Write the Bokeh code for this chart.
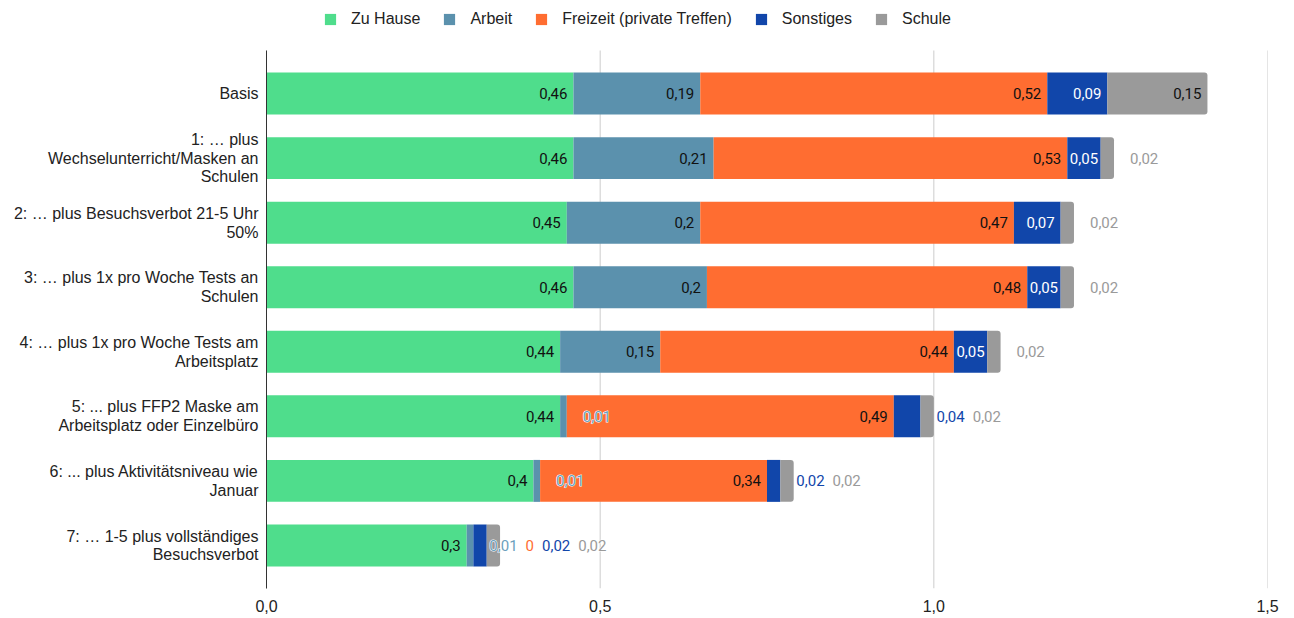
from bokeh.plotting import figure
from bokeh.models import (ColumnDataSource, Range1d, FixedTicker, Legend, LegendItem,
                          LabelSet, CustomJSTickFormatter)
from bokeh.core.properties import value
from bokeh.embed import file_html
from bokeh.resources import INLINE

categories = [
    "Basis",
    "1: … plus\nWechselunterricht/Masken an\nSchulen",
    "2: … plus Besuchsverbot 21-5 Uhr\n50%",
    "3: … plus 1x pro Woche Tests an\nSchulen",
    "4: … plus 1x pro Woche Tests am\nArbeitsplatz",
    "5: ... plus FFP2 Maske am\nArbeitsplatz oder Einzelbüro",
    "6: ... plus Aktivitätsniveau wie\nJanuar",
    "7: … 1-5 plus vollständiges\nBesuchsverbot",
]
series_names = ["Zu Hause", "Arbeit", "Freizeit (private Treffen)", "Sonstiges", "Schule"]
zu_hause = [0.46, 0.46, 0.45, 0.46, 0.44, 0.44, 0.40, 0.30]
arbeit = [0.19, 0.21, 0.20, 0.20, 0.15, 0.01, 0.01, 0.01]
freizeit = [0.52, 0.53, 0.47, 0.48, 0.44, 0.49, 0.34, 0.00]
sonstiges = [0.09, 0.05, 0.07, 0.05, 0.05, 0.04, 0.02, 0.02]
schule = [0.15, 0.02, 0.02, 0.02, 0.02, 0.02, 0.02, 0.02]
x_ticks = [0.0, 0.5, 1.0, 1.5]

colors = ["#4fdd8c", "#5b91ad", "#ff6d31", "#1146aa", "#9a9a9a"]
outside_text_colors = ["#4fdd8c", "#6b9fbd", "#ff6d31", "#1146aa", "#9a9a9a"]
inside_text_colors = ["#111111", "#111111", "#111111", "#ffffff", "#111111"]
series = [zu_hause, arbeit, freizeit, sonstiges, schule]

# layout (pixels)
FRAME_W = 1001
PLOT_H = 538          # height of the bar area
LEGEND_H = 50         # space above the bar area for the legend
X_MAX = 1.5
PPU = FRAME_W / X_MAX
LABEL_FONT = "Roboto"
LABEL_SIZE = 15

n = len(categories)
ys = list(range(n))
y_lo, y_hi = -0.667, n - 1 + 0.667
row_px = PLOT_H / (y_hi - y_lo)
y_top = y_lo - LEGEND_H / row_px

p = figure(frame_width=FRAME_W, frame_height=PLOT_H + LEGEND_H,
           min_border_left=266, min_border_right=19, min_border_top=0, min_border_bottom=26,
           x_range=Range1d(0, X_MAX), y_range=Range1d(y_hi, y_top),
           output_backend="svg", toolbar_location=None, tools="")
p.outline_line_color = None
p.background_fill_color = "white"

# vertical grid lines (bar area only)
p.segment(x0=x_ticks, x1=x_ticks, y0=[y_lo] * len(x_ticks), y1=[y_hi] * len(x_ticks),
          line_color="#cccccc", line_width=1)

# stacked bars
lefts = [0.0] * n
renderers = []
for k, vals in enumerate(series):
    rights = [l + v for l, v in zip(lefts, vals)]
    src = ColumnDataSource(dict(y=ys, left=lefts, right=rights))
    kw = {}
    if k == len(series) - 1:
        kw["border_radius"] = (0, 3, 3, 0)
    r = p.hbar(y="y", left="left", right="right", height=0.65, source=src,
               fill_color=colors[k], line_color=None, **kw)
    renderers.append(r)
    lefts = rights

# data labels
def fmt(v):
    return f"{v:g}".replace(".", ",")

def text_w(s):
    w = 0.0
    for ch in s:
        w += 0.1966 * LABEL_SIZE if ch == "," else 0.5615 * LABEL_SIZE
    return w

ins = dict(x=[], y=[], text=[], color=[], xo=[])
out = dict(x=[], y=[], text=[], color=[], xo=[])
for i in range(n):
    start = 0.0
    prev_right = -1e9
    for k, vals in enumerate(series):
        v = vals[i]
        end = start + v
        t = fmt(v)
        tw = text_w(t)
        seg_px = v * PPU
        if seg_px >= tw + 4:
            pad = min(6.0, (seg_px - tw) / 2)
            ins["x"].append(end); ins["y"].append(i); ins["text"].append(t)
            ins["color"].append(inside_text_colors[k]); ins["xo"].append(-pad)
        else:
            desired = end * PPU + 16
            xpx = max(desired, prev_right + 8)
            prev_right = xpx + tw
            out["x"].append(end); out["y"].append(i); out["text"].append(t)
            out["color"].append(outside_text_colors[k]); out["xo"].append(xpx - end * PPU)
        start = end

common = dict(x="x", y="y", text="text", x_offset="xo", y_offset=0, text_baseline="middle",
              text_font=value(LABEL_FONT), text_font_size=f"{LABEL_SIZE}px")
p.add_layout(LabelSet(source=ColumnDataSource(ins), text_align="right",
                      text_color="color", **common))
out_src = ColumnDataSource(out)
# white halo underneath the outside labels
p.add_layout(LabelSet(source=out_src, text_align="left", text_color="white",
                      text_outline_color="white", **common))
p.add_layout(LabelSet(source=out_src, text_align="left", text_color="color", **common))

# axes
p.xaxis.ticker = FixedTicker(ticks=x_ticks)
p.xaxis.formatter = CustomJSTickFormatter(code="return tick.toFixed(1).replace('.', ',');")
p.xaxis.axis_line_color = None
p.xaxis.major_tick_line_color = None
p.xaxis.minor_tick_line_color = None
p.xaxis.major_label_standoff = 5
p.xaxis.major_label_text_font = "Liberation Sans"
p.xaxis.major_label_text_font_size = "16px"
p.xaxis.major_label_text_color = "#222222"

p.yaxis.ticker = FixedTicker(ticks=ys)
p.yaxis.bounds = (y_lo, y_hi)
p.yaxis.major_label_overrides = {i: c for i, c in enumerate(categories)}
p.yaxis.axis_line_color = "#333333"
p.yaxis.axis_line_width = 1
p.yaxis.major_tick_line_color = None
p.yaxis.minor_tick_line_color = None
p.yaxis.major_label_standoff = 2
p.yaxis.major_label_text_font = "Liberation Sans"
p.yaxis.major_label_text_font_size = "16px"
p.yaxis.major_label_text_line_height = 1.1
p.yaxis.major_label_text_color = "#222222"

p.xgrid.grid_line_color = None
p.ygrid.grid_line_color = None

legend = Legend(items=[LegendItem(label=name, renderers=[r]) for name, r in zip(series_names, renderers)],
                orientation="horizontal", location=(57, PLOT_H + LEGEND_H - 28),
                glyph_width=14, glyph_height=14, label_height=18, label_standoff=14, spacing=22,
                padding=0, margin=0, border_line_color=None, background_fill_alpha=0,
                label_text_font="Liberation Sans", label_text_font_size="16px",
                label_text_color="#222222")
p.add_layout(legend, "center")

open("out.html", "w").write(file_html(p, INLINE))
